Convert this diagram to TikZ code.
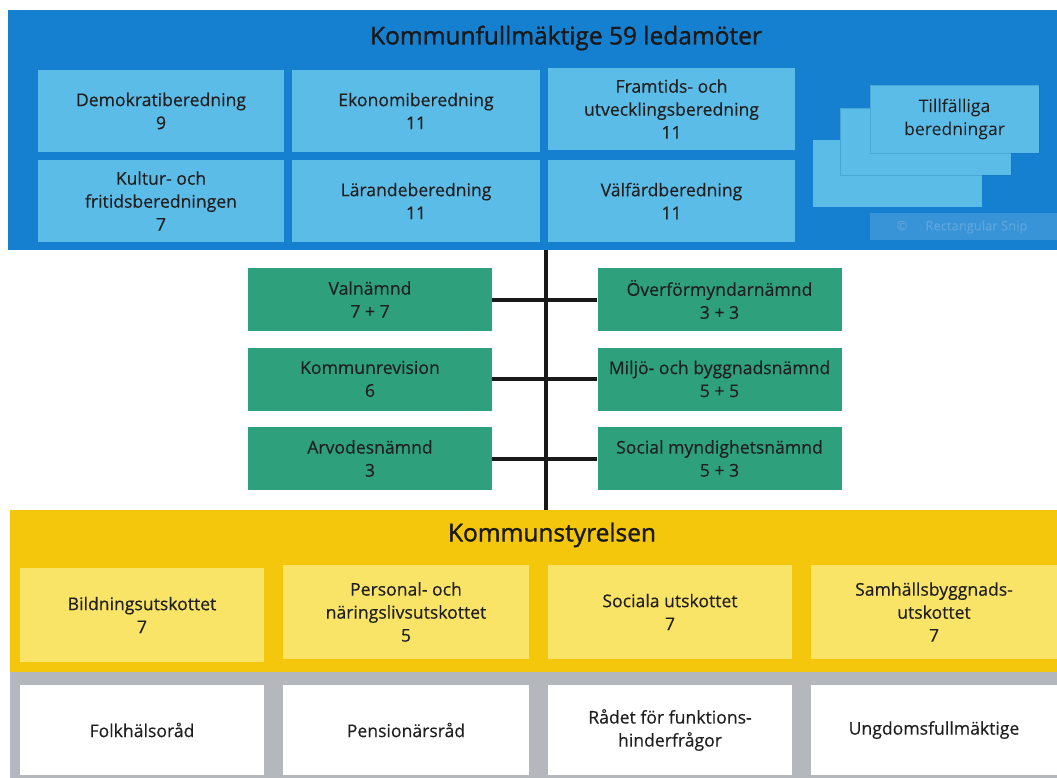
\documentclass[tikz,border=0pt]{standalone}
\usepackage{fontspec}
\setmainfont{Open Sans}[FakeBold=0.35]
\newfontfamily\titlefont{Open Sans}[FakeBold=1.3]
\begin{document}
\begin{tikzpicture}[x=1pt,y=-1pt,
  txt/.style={font=\fontsize{17.6}{23}\selectfont, text=black!88, align=center, inner sep=0pt},
  band/.style={draw=none, inner sep=0pt, anchor=north west},
  lbbox/.style={txt, fill=lblue, minimum height=82pt},
  gbox/.style={txt, fill=ngreen, minimum width=244pt, minimum height=63pt},
  ybox/.style={txt, fill=lyellow, minimum height=94pt},
  wbox/.style={txt, fill=white, minimum height=90pt},
  conn/.style={line width=4pt, draw=black!90},
  title/.style={font=\titlefont\fontsize{24.5}{28}\selectfont, text=black!90, inner sep=0pt}
]
\definecolor{dblue}{RGB}{22,128,208}
\definecolor{lblue}{RGB}{92,188,232}
\definecolor{ngreen}{RGB}{46,160,124}
\definecolor{dyellow}{RGB}{244,198,12}
\definecolor{lyellow}{RGB}{250,228,104}
\definecolor{gband}{RGB}{180,184,188}
\useasboundingbox (0,0) rectangle (1057,778);
\fill[white] (0,0) rectangle (1057,778);
% bands
\node[band, fill=dblue, minimum width=1049pt, minimum height=240pt] (kf) at (8,10) {};
\node[band, fill=dyellow, minimum width=1047pt, minimum height=162pt] (ks) at (10,510) {};
\node[band, fill=gband, minimum width=1047pt, minimum height=106pt] (rad) at (10,672) {};
\node[title] (kft) at (566,38) {Kommunfullmäktige 59 ledamöter};
\node[title] (kst) at (552,535) {Kommunstyrelsen};
% beredningar
\node[lbbox, minimum width=246pt] (demo) at (161,111) {Demokratiberedning\\9};
\node[lbbox, minimum width=248pt] (eko) at (416,111) {Ekonomiberedning\\11};
\node[lbbox, minimum width=247pt] (fram) at (671.5,109) {Framtids- och\\utvecklingsberedning\\11};
\node[lbbox, minimum width=246pt] (kult) at (161,201) {Kultur- och\\fritidsberedningen\\7};
\node[lbbox, minimum width=248pt] (lar) at (416,201) {Lärandeberedning\\11};
\node[lbbox, minimum width=247pt] (valf) at (671.5,201) {Välfärdberedning\\11};
% tillfalliga
\node[txt, fill=lblue, minimum width=169pt, minimum height=67pt] (t3) at (897.5,173.5) {};
\node[txt, fill=lblue, minimum width=171pt, minimum height=67pt, draw=dblue!80!black, draw opacity=0.25] (t2) at (925.5,141.5) {};
\node[txt, fill=lblue, minimum width=169pt, minimum height=68pt, draw=dblue!80!black, draw opacity=0.25] (t1) at (954.5,119) {Tillfälliga\\beredningar};
% watermark
\node[band, fill=dblue!85!white, minimum width=187pt, minimum height=27pt] (wm) at (870,213) {};
\node[txt, text=dblue!70!white, font=\fontsize{13}{14}\selectfont] (wmt) at (962,227) {©\hspace{18pt}Rectangular Snip};
% nämnder
\node[gbox] (valn) at (370,299.5) {Valnämnd\\7 + 7};
\node[gbox] (krev) at (370,379) {Kommunrevision\\6};
\node[gbox] (arv) at (370,458.5) {Arvodesnämnd\\3};
\node[gbox] (over) at (719.5,299.5) {Överförmyndarnämnd\\3 + 3};
\node[gbox] (milj) at (719.5,379) {Miljö- och byggnadsnämnd\\5 + 5};
\node[gbox] (soc) at (719.5,458.5) {Social myndighetsnämnd\\5 + 3};
\coordinate (sp) at (546,0);
\draw[conn] (kf.south -| sp) -- (ks.north -| sp);
\draw[conn] (valn.east) -- (over.west);
\draw[conn] (krev.east) -- (milj.west);
\draw[conn] (arv.east) -- (soc.west);
% utskott
\node[ybox, minimum width=244pt] (bild) at (142,615) {Bildningsutskottet\\7};
\node[ybox, minimum width=246pt] (pers) at (406,612) {Personal- och\\näringslivsutskottet\\5};
\node[ybox, minimum width=244pt] (socu) at (670,612) {Sociala utskottet\\7};
\node[ybox, minimum width=246pt] (samh) at (934,612) {Samhällsbyggnads-\\utskottet\\7};
% råd
\node[wbox, minimum width=244pt] (folk) at (142,730) {Folkhälsoråd};
\node[wbox, minimum width=246pt] (pens) at (406,730) {Pensionärsråd};
\node[wbox, minimum width=244pt] (fun) at (670,730) {Rådet för funktions-\\hinderfrågor};
\node[wbox, minimum width=246pt] (ung) at (934,730) {Ungdomsfullmäktige};
\end{tikzpicture}
\end{document}
